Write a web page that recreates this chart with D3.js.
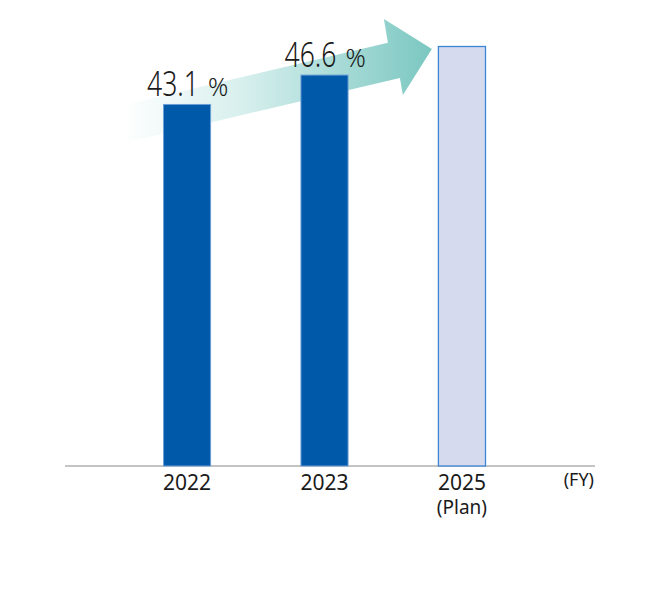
<!DOCTYPE html>
<html>
<head>
<meta charset="utf-8">
<script src="https://cdn.jsdelivr.net/npm/d3@7"></script>
<style>
  body { margin: 0; background: #fff; }
</style>
</head>
<body>
<script>
// chart data
var years = ['2022', '2023', '2025'];
var subLabels = ['', '', '(Plan)'];
var values = [43.1, 46.6, 50];
var valueLabels = ['43.1', '46.6', ''];
var planned = [false, false, true];

window.onload = drawChart();

function drawChart(){

    var width = 658,
        height = 598;

    var svg = d3.select('body')
        .append('svg')
        .attr('width', width)
        .attr('height', height);

    //scales
    var x = d3.scaleBand()
        .domain(years)
        .range([163, 486])
        .paddingInner(0.65)
        .paddingOuter(0);

    var y = d3.scaleLinear()
        .domain([0, 50])
        .range([466, 46]);

    //gradient for the growth arrow
    var defs = svg.append('defs');
    var grad = defs.append('linearGradient')
        .attr('id', 'arrowGrad')
        .attr('gradientUnits', 'userSpaceOnUse')
        .attr('x1', x('2022') - 40).attr('y1', 0)
        .attr('x2', x('2025') - 10).attr('y2', 0);
    grad.append('stop').attr('offset', 0).attr('stop-color', '#ffffff');
    grad.append('stop').attr('offset', 0.4).attr('stop-color', '#d6efed');
    grad.append('stop').attr('offset', 1).attr('stop-color', '#7dc8c2');

    //arrow, laid out from the bar positions
    var slope = -0.235;
    var tailX = x('2022') - 38,
        joinX = x('2025') - 50;
    function topEdge(px){ return 40 + slope * (px - 400); }
    function botEdge(px){ return 78 + slope * (px - 400); }
    var arrowPts = [
        [tailX, topEdge(tailX)],
        [joinX, topEdge(joinX)],
        [joinX - 4, 19],
        [x('2025') - 6, 49],
        [joinX + 15, 95],
        [joinX + 12, botEdge(joinX + 12)],
        [tailX, botEdge(tailX)]
    ];
    svg.append('path')
        .attr('class', 'arrow')
        .attr('d', d3.line()(arrowPts) + 'Z')
        .attr('fill', 'url(#arrowGrad)');

    //axis line
    svg.append('line')
        .attr('x1', 65).attr('x2', 595)
        .attr('y1', y(0)).attr('y2', y(0))
        .attr('stroke', '#8a8a8a')
        .attr('stroke-width', 1.2);

    //bars
    svg.selectAll('.bar')
        .data(years)
        .enter()
        .append('rect')
        .attr('class', 'bar')
        .attr('x', function(d){ return x(d) + 0.5; })
        .attr('y', function(d, i){ return y(values[i]) + 0.5; })
        .attr('width', x.bandwidth() - 1)
        .attr('height', function(d, i){ return y(0) - y(values[i]) - 0.5; })
        .attr('fill', function(d, i){ return planned[i] ? '#d5daef' : '#0059a9'; })
        .attr('stroke', function(d, i){ return planned[i] ? '#3c86d6' : '#6d9fd9'; })
        .attr('stroke-width', function(d, i){ return planned[i] ? 1.3 : 1; });

    //value labels: condensed number + smaller percent sign
    var labelled = years.filter(function(d, i){ return valueLabels[i] !== ''; });
    var numW = 52, gap = 9, pctW = 21;

    var vl = svg.selectAll('.valLabel')
        .data(labelled)
        .enter()
        .append('g')
        .attr('class', 'valLabel')
        .attr('transform', function(d){
            var cx = x(d) + x.bandwidth() / 2 - (numW + gap + pctW) / 2 + 1;
            return 'translate(' + cx + ',' + (y(values[years.indexOf(d)]) - 8) + ')';
        });

    vl.append('text')
        .attr('transform', 'scale(0.78,1)')
        .attr('font-family', "'Noto Sans', sans-serif")
        .attr('font-weight', 300)
        .attr('font-size', 34)
        .attr('fill', '#1a1a1a')
        .text(function(d){ return valueLabels[years.indexOf(d)]; });

    vl.append('text')
        .attr('x', numW + gap)
        .attr('font-family', "'Noto Sans', sans-serif")
        .attr('font-weight', 300)
        .attr('font-size', 25)
        .attr('fill', '#1a1a1a')
        .text('%');

    //year labels
    svg.selectAll('.yearLabel')
        .data(years)
        .enter()
        .append('text')
        .attr('class', 'yearLabel')
        .attr('x', function(d){ return x(d) + x.bandwidth() / 2; })
        .attr('y', 490)
        .attr('text-anchor', 'middle')
        .attr('font-family', "'Noto Sans', sans-serif")
        .attr('font-size', 21)
        .attr('fill', '#1a1a1a')
        .text(function(d){ return d; });

    svg.selectAll('.subLabel')
        .data(years.filter(function(d, i){ return subLabels[i] !== ''; }))
        .enter()
        .append('text')
        .attr('class', 'subLabel')
        .attr('x', function(d){ return x(d) + x.bandwidth() / 2; })
        .attr('y', 514)
        .attr('text-anchor', 'middle')
        .attr('font-family', "'Noto Sans', sans-serif")
        .attr('font-size', 19)
        .attr('fill', '#1a1a1a')
        .text(function(d){ return subLabels[years.indexOf(d)]; });

    //unit label
    svg.append('text')
        .attr('x', 594)
        .attr('y', 486)
        .attr('text-anchor', 'end')
        .attr('font-family', "'Noto Sans', sans-serif")
        .attr('font-size', 18)
        .attr('fill', '#1a1a1a')
        .text('(FY)');
};
</script>
</body>
</html>
